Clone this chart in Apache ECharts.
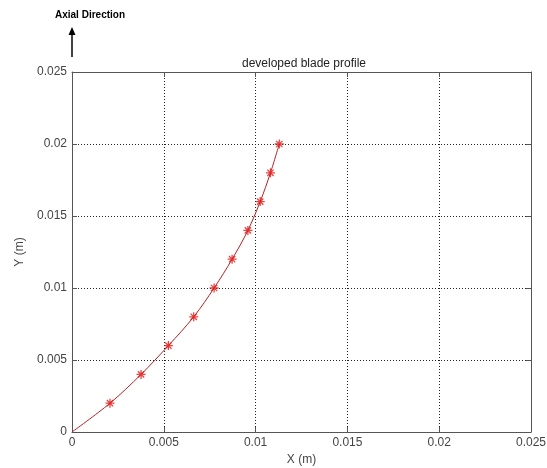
<!DOCTYPE html>
<html><head><meta charset="utf-8">
<script src="https://cdn.jsdelivr.net/npm/echarts@6/dist/echarts.min.js"></script>
<style>html,body{margin:0;padding:0;background:#fff}#c{width:547px;height:468px}</style>
</head><body><div id="c"></div>
<script>
// Data
const xValues = [0, 0.00207, 0.00376, 0.00525, 0.00663, 0.00774, 0.00872, 0.00958, 0.01025, 0.01081, 0.01129];
const yValues = [0, 0.002, 0.004, 0.006, 0.008, 0.010, 0.012, 0.014, 0.016, 0.018, 0.020];
const xTicks = [0, 0.005, 0.01, 0.015, 0.02, 0.025];
const yTicks = [0, 0.005, 0.01, 0.015, 0.02, 0.025];

const pts = xValues.map((x, i) => [x, yValues[i]]);
const markerPts = pts.slice(1);
const star = 'path://M0,-1L0,1M-1,0L1,0M-0.7,-0.7L0.7,0.7M-0.7,0.7L0.7,-0.7';
const fmt = v => String(+v.toFixed(4));
const font = 'Arial, "Liberation Sans", sans-serif';

const chart = echarts.init(document.getElementById('c'), null, {renderer: 'canvas'});
const mkAxis = extra => Object.assign({
  type: 'value', min: 0, max: 0.025, interval: 0.005,
  axisLine: {show: true, onZero: false, lineStyle: {color: '#555', width: 1}},
  axisTick: {show: true, inside: true, length: 5, lineStyle: {color: '#555'}},
  splitLine: {show: false}
}, extra);
chart.setOption({
  animation: false,
  backgroundColor: '#fff',
  title: {
    text: 'developed blade profile', left: 299, top: 53, textAlign: 'center',
    textStyle: {fontFamily: font, fontSize: 12, fontWeight: 'normal', color: '#222'}
  },
  grid: {left: 72, right: 16, top: 72, bottom: 36, show: false, containLabel: false, outerBoundsMode: 'none'},
  xAxis: [
    mkAxis({
      position: 'bottom',
      name: 'X (m)', nameLocation: 'middle', nameGap: 22,
      nameTextStyle: {fontFamily: font, fontSize: 12, color: '#444'},
      axisLabel: {fontFamily: font, fontSize: 12, color: '#444', margin: 5,
        formatter: v => fmt(v), customValues: xTicks},
      splitLine: {show: true, lineStyle: {type: [1, 2], color: '#222', width: 1}}
    }),
    mkAxis({position: 'top', axisLabel: {show: false}})
  ],
  yAxis: [
    mkAxis({
      position: 'left',
      name: 'Y (m)', nameLocation: 'middle', nameGap: 46,
      nameTextStyle: {fontFamily: font, fontSize: 12, color: '#444'},
      axisLabel: {fontFamily: font, fontSize: 12, color: '#444', margin: 5,
        formatter: v => fmt(v), customValues: yTicks},
      splitLine: {show: true, lineStyle: {type: [1, 2], color: '#222', width: 1}}
    }),
    mkAxis({position: 'right', axisLabel: {show: false}})
  ],
  series: [
    {
      type: 'line', data: pts, smooth: 0.35, showSymbol: false, symbol: 'none',
      lineStyle: {color: '#b52222', width: 1}, z: 3
    },
    {
      type: 'scatter', data: markerPts, symbol: star, symbolSize: 9,
      itemStyle: {color: 'rgba(0,0,0,0)', borderColor: '#e01515', borderWidth: 1.3}, z: 4
    }
  ],
  graphic: [
    {type: 'text', left: 55, top: 10, style: {text: 'Axial Direction', fontFamily: font, fontSize: 10, fontWeight: 'bold', fill: '#000'}},
    {type: 'line', shape: {x1: 72, y1: 57, x2: 72, y2: 33}, style: {stroke: '#000', lineWidth: 1.5}},
    {type: 'polygon', shape: {points: [[72, 27], [68.5, 35], [75.5, 35]]}, style: {fill: '#000'}}
  ]
});
</script></body></html>
